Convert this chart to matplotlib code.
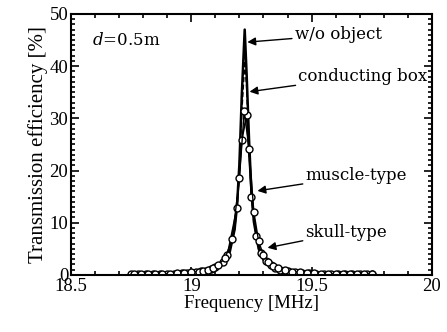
import matplotlib
matplotlib.use('Agg')
import matplotlib.pyplot as plt
from matplotlib.ticker import MultipleLocator

plt.rcParams['font.family'] = ['Liberation Serif', 'DejaVu Serif']
plt.rcParams['mathtext.fontset'] = 'dejavuserif'

# w/o object (solid line)
f_free = [18.75, 18.80, 18.85, 18.90, 18.95, 19.00, 19.05, 19.08, 19.10, 19.12, 19.14, 19.16,
          19.18, 19.19, 19.20, 19.21, 19.222, 19.23, 19.24, 19.25, 19.26, 19.28, 19.30, 19.32,
          19.34, 19.37, 19.40, 19.45, 19.50, 19.55, 19.60, 19.65, 19.70, 19.75]
eff_free = [0.08, 0.11, 0.14, 0.18, 0.25, 0.38, 0.63, 0.91, 1.23, 1.74, 2.64, 4.43,
            8.7, 13.2, 21.3, 34.6, 47.0, 38.5, 26.0, 15.9, 10.2, 5.0, 2.9, 1.88,
            1.31, 0.84, 0.59, 0.36, 0.24, 0.17, 0.13, 0.10, 0.08, 0.07]

# conducting box (dashed line)
f_box = f_free
eff_box = [0.09, 0.11, 0.14, 0.19, 0.27, 0.40, 0.66, 0.96, 1.29, 1.82, 2.75, 4.6,
           8.8, 13.1, 20.5, 31.5, 41.0, 36.3, 24.6, 15.6, 10.3, 5.2, 3.0, 1.97,
           1.38, 0.89, 0.62, 0.38, 0.25, 0.18, 0.14, 0.11, 0.09, 0.07]

# muscle-type (circles + line)
f_muscle = [18.75, 18.78, 18.81, 18.84, 18.87, 18.90, 18.93, 18.96, 18.98, 19.00, 19.02, 19.04,
            19.06, 19.08, 19.10, 19.13, 19.15, 19.19, 19.21, 19.23, 19.25, 19.27, 19.29, 19.31,
            19.33, 19.35, 19.37, 19.40, 19.43, 19.46, 19.49, 19.52, 19.55, 19.58, 19.61, 19.64,
            19.67, 19.70, 19.73, 19.75]
eff_muscle = [0.10, 0.12, 0.13, 0.15, 0.18, 0.22, 0.26, 0.33, 0.38, 0.45, 0.54, 0.67,
              0.84, 1.08, 1.45, 2.46, 3.8, 12.9, 25.9, 30.6, 14.9, 7.4, 4.2, 2.67,
              1.82, 1.32, 1.0, 0.70, 0.51, 0.39, 0.31, 0.25, 0.21, 0.18, 0.15, 0.13,
              0.11, 0.10, 0.09, 0.08]

# skull-type (circles + line)
f_skull = [18.76, 18.79, 18.82, 18.85, 18.88, 18.91, 18.94, 18.97, 19.00, 19.03, 19.05, 19.07,
           19.09, 19.11, 19.14, 19.17, 19.20, 19.22, 19.24, 19.26, 19.28, 19.30, 19.32, 19.34,
           19.36, 19.39, 19.42, 19.45, 19.48, 19.51, 19.54, 19.57, 19.60, 19.63, 19.66, 19.69,
           19.72, 19.75]
eff_skull = [0.12, 0.13, 0.15, 0.18, 0.21, 0.25, 0.31, 0.38, 0.49, 0.65, 0.81, 1.02,
             1.34, 1.82, 3.2, 6.8, 18.5, 31.4, 24.1, 12.1, 6.4, 3.8, 2.5, 1.76,
             1.3, 0.89, 0.64, 0.48, 0.38, 0.30, 0.25, 0.21, 0.18, 0.15, 0.13, 0.115,
             0.10, 0.09]

fig = plt.figure(figsize=(4.47, 3.32), dpi=100)
ax = fig.add_axes([0.159, 0.172, 0.807, 0.786])

ax.plot(f_free, eff_free, '-', color='k', lw=1.8)
ax.plot(f_box, eff_box, '--', color='k', lw=1.2, dashes=(3, 1.5))
ax.plot(f_muscle, eff_muscle, '-', color='k', lw=1.2, marker='o', ms=5,
        mfc='white', mec='k', mew=1)
ax.plot(f_skull, eff_skull, '-', color='k', lw=1.0, marker='o', ms=5,
        mfc='white', mec='k', mew=1)

ax.set_xlim(18.5, 20)
ax.set_ylim(0, 50)
ax.xaxis.set_major_locator(MultipleLocator(0.5))
ax.xaxis.set_minor_locator(MultipleLocator(0.1))
ax.yaxis.set_major_locator(MultipleLocator(10))
ax.yaxis.set_minor_locator(MultipleLocator(1))
ax.set_xticks([18.5, 19, 19.5, 20])
ax.set_xticklabels(['18.5', '19', '19.5', '20'])
ax.tick_params(which='both', direction='in', top=True, right=True, labelsize=13.5, width=1.2, pad=2)
ax.tick_params(which='major', length=6)
ax.tick_params(which='minor', length=3)
for s in ax.spines.values():
    s.set_linewidth(1.5)

ax.set_xlabel('Frequency [MHz]', fontsize=13.5, labelpad=0)
ax.set_ylabel('Transmission efficiency [%]', fontsize=15, labelpad=1)

ax.text(18.5875, 45.0, r'$d$=0.5m', fontsize=12, va='center', ha='left', family='DejaVu Serif')

arrow = dict(arrowstyle='-|>', color='k', lw=1.0, mutation_scale=12, shrinkA=0, shrinkB=0)
labels = ['w/o object', 'conducting box', 'muscle-type', 'skull-type']
tips = [(19.233, 44.6), (19.242, 35.1), (19.275, 16.1), (19.317, 5.2)]
texts = [(19.43, 46.0), (19.445, 38.1), (19.475, 19.0), (19.475, 8.2)]
for lab, tip, pos in zip(labels, tips, texts):
    ax.annotate(lab, xy=tip, xytext=pos, fontsize=12, ha='left', va='center',
                family='DejaVu Serif', arrowprops=arrow)

fig.savefig('out.png', dpi=100)
